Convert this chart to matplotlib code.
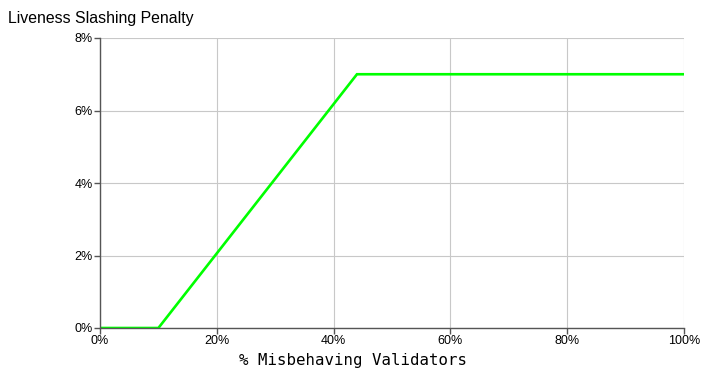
import matplotlib.pyplot as plt
from matplotlib.ticker import FuncFormatter

# % misbehaving validators vs liveness slashing penalty (%)
misbehaving = [0, 10, 44, 100]
penalty = [0, 0, 7, 7]

x_ticks = [0, 20, 40, 60, 80, 100]
y_ticks = [0, 2, 4, 6, 8]

plt.rcParams['font.family'] = ['Liberation Sans', 'DejaVu Sans']

fig = plt.figure(figsize=(7.11, 3.82), dpi=100)
ax = fig.add_axes([100 / 711, 54 / 382, 584 / 711, 290 / 382])

ax.plot(misbehaving, penalty, color='#00ff00', lw=1.9, solid_joinstyle='miter')

ax.set_xlim(0, 100)
ax.set_ylim(0, 8)
ax.set_xticks(x_ticks)
ax.set_yticks(y_ticks)
pct = FuncFormatter(lambda v, _: f'{v:.0f}%')
ax.xaxis.set_major_formatter(pct)
ax.yaxis.set_major_formatter(pct)
ax.grid(True, color='#c8c8c8', lw=0.8)
ax.set_axisbelow(True)

for side in ['top', 'right']:
    ax.spines[side].set_visible(False)
for side in ['left', 'bottom']:
    ax.spines[side].set_color('#555555')
    ax.spines[side].set_linewidth(1)
ax.tick_params(length=4, width=1, color='#555555', labelsize=9, pad=1)

# axis label sits left of the axes centre in the original
fig.text(353 / 711, 1 - 361 / 382, '% Misbehaving Validators', family='DejaVu Sans Mono',
         fontsize=11.3, ha='center', va='center')
fig.text(8 / 711, 1 - 18 / 382, 'Liveness Slashing Penalty', fontsize=11.4, va='center', ha='left')

fig.savefig('out.png', dpi=100)
